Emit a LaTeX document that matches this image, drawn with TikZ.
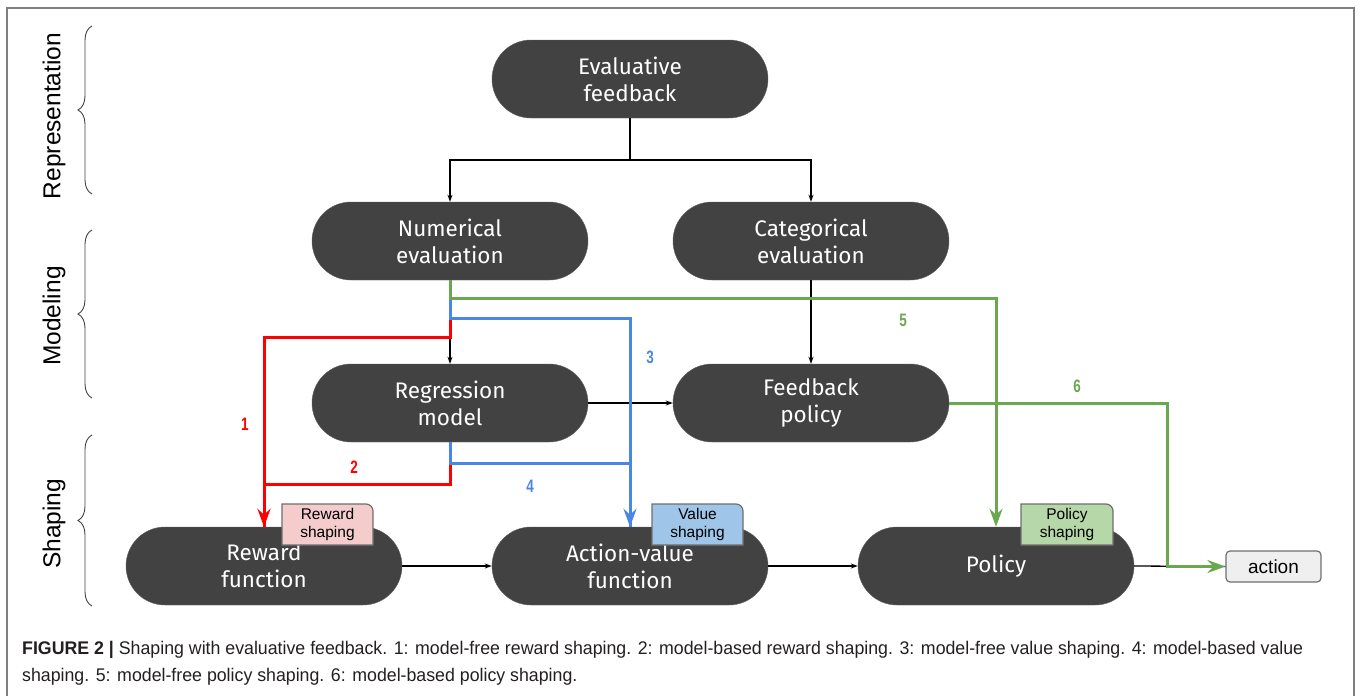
\documentclass[tikz,border=0pt]{standalone}
\usepackage{fontspec}
\setmainfont{Liberation Sans}
\newfontfamily\boxfont{Fira Sans}
\newfontfamily\numfont{Liberation Sans}[FakeStretch=0.75]
\newfontfamily\capfont{Liberation Sans}[FakeStretch=0.97]
\usetikzlibrary{arrows.meta,decorations.pathreplacing}

\definecolor{boxgray}{HTML}{424242}
\definecolor{framegray}{HTML}{7F7F7F}
\definecolor{tagborder}{HTML}{6E6E6E}
\definecolor{redpath}{HTML}{FF0000}
\definecolor{bluepath}{HTML}{4A86E8}
\definecolor{greenpath}{HTML}{6AA84F}
\definecolor{redtag}{HTML}{F4CCCC}
\definecolor{bluetag}{HTML}{9FC5E8}
\definecolor{greentag}{HTML}{B6D7A8}
\definecolor{actionfill}{HTML}{EFEFEF}
\definecolor{captext}{HTML}{231F20}

\tikzset{
  block/.style={rectangle, rounded corners=39pt, fill=boxgray, draw=boxgray!85!white,
    minimum width=276pt, minimum height=78pt, align=center, text=white,
    font=\boxfont\fontsize{22.5}{27}\selectfont},
  flow/.style={-{Stealth[length=7pt,width=5pt]}, line width=1.1pt},
  plainline/.style={line width=1.3pt},
  shapeline/.style={line width=3pt},
  shapetip/.style={-{Stealth[length=18pt,width=13pt,inset=6pt]}},
  tagshape/.style={draw=tagborder, line width=1.2pt},
  tagtext/.style={align=center, inner sep=0pt, font=\fontsize{15.5}{18}\selectfont},
  pathnum/.style={font=\numfont\bfseries\fontsize{18}{20}\selectfont},
  levellabel/.style={rotate=90, font=\fontsize{24.5}{28}\selectfont},
  levelbrace/.style={decorate, decoration={brace, amplitude=14pt}, draw=black!75, line width=0.9pt}
}

\begin{document}
\begin{tikzpicture}[x=1pt,y=-1pt]
\useasboundingbox (0,0) rectangle (1360,696);
\draw[framegray, line width=1.6pt] (7,8) rectangle (1354,730);

% levels on the left
\node[levellabel] (replab) at (54,116) {Representation};
\node[levellabel] (modlab) at (54,316) {Modeling};
\node[levellabel] (shalab) at (54,524) {Shaping};
\draw[levelbrace] (92,194) -- (92,26);
\draw[levelbrace] (92,398) -- (92,230);
\draw[levelbrace] (92,606) -- (92,435);

% boxes
\node[block] (evfb) at (630,79) {Evaluative\\feedback};
\node[block] (numev) at (450,241) {Numerical\\evaluation};
\node[block] (catev) at (811,241) {Categorical\\evaluation};
\node[block] (regm) at (450,403) {Regression\\model};
\node[block] (fbpol) at (811,403) {Feedback\\policy};
\node[block] (rewf) at (264,566) {Reward\\function};
\node[block] (actv) at (630,566) {Action-value\\function};
\node[block] (pol) at (996,566) {Policy};
\node[draw=tagborder, line width=1.2pt, fill=actionfill, rounded corners=4pt,
  minimum width=95pt, minimum height=31pt, font=\fontsize{19}{22}\selectfont] (act) at (1273.5,566.5) {action};

% shaping tags
\filldraw[tagshape, fill=redtag] (282,545) -- (282,504) -- (366,504) arc[start angle=270, end angle=360, radius=7] -- (373,545) -- cycle;
\node[tagtext] (rtag) at (327.5,524.5) {Reward\\shaping};
\filldraw[tagshape, fill=bluetag] (652,545) -- (652,504) -- (736,504) arc[start angle=270, end angle=360, radius=7] -- (743,545) -- cycle;
\node[tagtext] (vtag) at (697.5,524.5) {Value\\shaping};
\filldraw[tagshape, fill=greentag] (1021,545) -- (1021,504) -- (1106,504) arc[start angle=270, end angle=360, radius=7] -- (1113,545) -- cycle;
\node[tagtext] (ptag) at (1067,524.5) {Policy\\shaping};

% black connectors
\coordinate (split) at (630,160);
\draw[plainline] (evfb.south) -- (split);
\draw[flow] (split) -| (numev.north);
\draw[flow] (split) -| (catev.north);
\draw[flow] (numev.south) -- (regm.north);
\draw[flow] (catev.south) -- (fbpol.north);
\draw[flow] (regm.east) -- (fbpol.west);
\draw[flow] (rewf.east) -- (actv.west);
\draw[flow] (actv.east) -- (pol.west);
\draw[plainline] (pol.east) -- (act.west);

% shaping paths
\draw[shapeline, redpath] (regm.south) -- ++(0,42) -| (rewf.north);
\draw[shapeline, shapetip, redpath] (numev.south) -- ++(0,57) -| (rewf.north);
\draw[shapeline, bluepath] (regm.south) -- ++(0,21) -| (actv.north);
\draw[shapeline, shapetip, bluepath] (numev.south) -- ++(0,38) -| (actv.north);
\draw[shapeline, shapetip, greenpath] (numev.south) -- ++(0,18) -| (pol.north);
\draw[shapeline, shapetip, greenpath] (fbpol.east) -- ++(218,0) |- (act.west);

\node[pathnum, redpath] (n1) at (245,424) {1};
\node[pathnum, redpath] (n2) at (354,467) {2};
\node[pathnum, bluepath] (n3) at (650,357) {3};
\node[pathnum, bluepath] (n4) at (530,486) {4};
\node[pathnum, greenpath] (n5) at (903,320) {5};
\node[pathnum, greenpath] (n6) at (1077,386) {6};

% caption
\node[anchor=north west, inner sep=0pt, align=left, text=captext,
  font=\capfont\fontsize{18.3}{27}\selectfont] (cap) at (22,641)
  {{\bfseries FIGURE 2 |} Shaping with evaluative feedback. 1: model-free reward shaping. 2: model-based reward shaping. 3: model-free value shaping. 4: model-based value\\
   shaping. 5: model-free policy shaping. 6: model-based policy shaping.};
\end{tikzpicture}
\end{document}
